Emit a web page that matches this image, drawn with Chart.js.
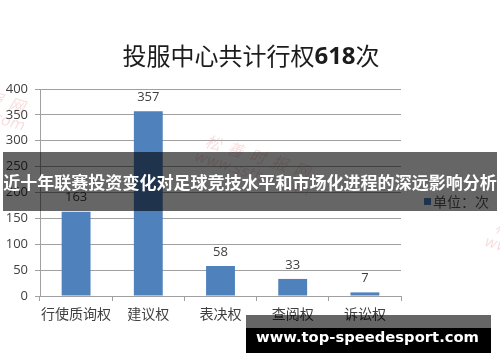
<!DOCTYPE html>
<html>
<head>
<meta charset="utf-8">
<script src="https://cdn.jsdelivr.net/npm/chart.js@4"></script>
<style>
  html, body { margin: 0; padding: 0; background: #ffffff; }
  canvas { display: block; }
</style>
</head>
<body>
<canvas id="c" width="500" height="362"></canvas>
<script>
// 行权类别与次数
const categories = ['行使质询权', '建议权', '表决权', '查阅权', '诉讼权'];
const counts = [163, 357, 58, 33, 7];
const yTicks = { min: 0, max: 400, step: 50 };

const titleParts = ['投服中心共计行权', '618', '次'];
const headline = '近十年联赛投资变化对足球竞技水平和市场化进程的深远影响分析';
const legendLabel = '单位：次';
const siteText = 'www.top-speedesport.com';
const stampLines = ['松善时报网', 'www.sstbw.com'];

const CJK = '"Noto Sans CJK SC", "Noto Sans", sans-serif';
const NUM = '"Open Sans", "Liberation Sans", sans-serif';
const BAR = '#4f81bd';
const GRID = '#a0a0a0';
const TEXT = '#404040';

// 背景浮水印（淡红色斜排文字）
const stampPlugin = {
  id: 'stamp',
  beforeDraw(chart) {
    const ctx = chart.ctx;
    const spots = [[255, 165], [-30, 100], [545, 250]];
    ctx.save();
    ctx.fillStyle = 'rgba(215, 70, 70, 0.18)';
    ctx.textAlign = 'center';
    ctx.textBaseline = 'middle';
    spots.forEach(([x, y]) => {
      ctx.save();
      ctx.translate(x, y);
      ctx.rotate(0.3);
      ctx.font = 'italic 16px ' + CJK;
      ctx.fillText(stampLines[0].split('').join('  '), 0, -9);
      ctx.font = 'italic 15px "DejaVu Sans", sans-serif';
      ctx.fillText(stampLines[1], 0, 10);
      ctx.restore();
    });
    ctx.restore();
  }
};

// 柱顶数值
const valueLabels = {
  id: 'valueLabels',
  afterDatasetsDraw(chart) {
    const ctx = chart.ctx;
    const meta = chart.getDatasetMeta(0);
    const values = chart.data.datasets[0].data;
    ctx.save();
    ctx.font = '13px ' + NUM;
    ctx.fillStyle = TEXT;
    ctx.textAlign = 'center';
    ctx.textBaseline = 'middle';
    meta.data.forEach((bar, i) => {
      ctx.fillText(String(values[i]), bar.x, bar.y - 14);
    });
    ctx.restore();
  }
};

// 标题、图例、横幅与底部网址
const decor = {
  id: 'decor',
  afterDraw(chart) {
    const ctx = chart.ctx;
    ctx.save();

    // 标题：汉字常规，数字加粗
    const fonts = ['24px ' + CJK, 'bold 24px ' + NUM, '24px ' + CJK];
    let total = 0;
    const widths = titleParts.map((t, i) => {
      ctx.font = fonts[i];
      const w = ctx.measureText(t).width;
      total += w;
      return w;
    });
    let x = 251 - total / 2;
    ctx.fillStyle = '#1c1c1c';
    ctx.textBaseline = 'middle';
    ctx.textAlign = 'left';
    titleParts.forEach((t, i) => {
      ctx.font = fonts[i];
      ctx.fillText(t, x, i === 1 ? 57 : 56);
      x += widths[i];
    });

    // 图例
    ctx.fillStyle = BAR;
    ctx.fillRect(424, 198, 7, 7);
    ctx.fillStyle = '#595959';
    ctx.font = '14px ' + CJK;
    ctx.fillText(legendLabel, 433, 202);

    // 半透明横幅
    ctx.fillStyle = 'rgba(0, 0, 0, 0.6)';
    ctx.fillRect(3, 152, 494, 59);
    ctx.fillStyle = '#ffffff';
    ctx.font = 'bold 100px ' + CJK;
    const hw = ctx.measureText(headline).width;
    const hs = 100 * 494 / hw;
    ctx.font = 'bold ' + hs.toFixed(2) + 'px ' + CJK;
    ctx.textAlign = 'center';
    ctx.fillText(headline, 250, 183);

    // 底部网址条
    ctx.fillStyle = 'rgba(0, 0, 0, 0.6)';
    ctx.fillRect(246, 315, 245, 13);
    ctx.fillStyle = '#000000';
    ctx.fillRect(246, 328, 245, 25);
    ctx.fillStyle = '#ffffff';
    ctx.font = 'bold 100px "DejaVu Sans", sans-serif';
    const sw = ctx.measureText(siteText).width;
    const ss = 100 * 223 / sw;
    ctx.font = 'bold ' + ss.toFixed(2) + 'px "DejaVu Sans", sans-serif';
    ctx.fillText(siteText, 367.5, 338);

    ctx.restore();
  }
};

new Chart(document.getElementById('c'), {
  type: 'bar',
  data: {
    labels: categories,
    datasets: [{
      data: counts,
      backgroundColor: BAR,
      borderWidth: 0,
      barPercentage: 0.4,
      categoryPercentage: 1.0
    }]
  },
  options: {
    responsive: false,
    animation: false,
    devicePixelRatio: 1,
    layout: { padding: { top: 89, right: 99, bottom: 0, left: 0 } },
    plugins: {
      legend: { display: false },
      title: { display: false },
      tooltip: { enabled: false }
    },
    scales: {
      x: {
        grid: { drawOnChartArea: false, drawTicks: true, tickLength: 5, color: GRID, offset: true },
        border: { display: true, color: GRID, width: 1 },
        ticks: { font: { family: CJK, size: 14 }, color: TEXT, padding: 4, maxRotation: 0, autoSkip: false },
        afterFit(s) { s.height = 66; }
      },
      y: {
        min: yTicks.min,
        max: yTicks.max,
        ticks: { stepSize: yTicks.step, font: { family: NUM, size: 13 }, color: TEXT, padding: 7 },
        grid: { color: GRID, tickLength: 5, lineWidth: 1 },
        border: { display: true, color: GRID, width: 1 },
        afterFit(s) { s.width = 40; }
      }
    }
  },
  plugins: [stampPlugin, valueLabels, decor]
});
</script>
</body>
</html>
